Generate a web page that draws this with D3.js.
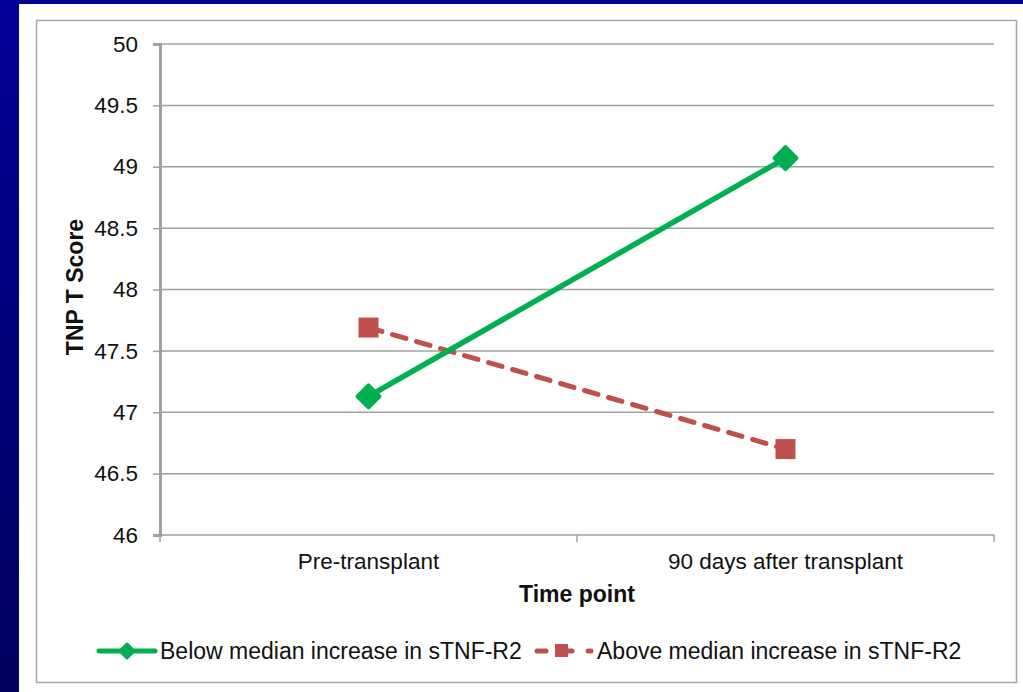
<!DOCTYPE html>
<html><head><meta charset="utf-8">
<script src="https://cdn.jsdelivr.net/npm/d3@7"></script>
<style>body{margin:0;padding:0;overflow:hidden;}svg{display:block;font-family:"Liberation Sans",Arial,sans-serif;}</style>
</head><body>
<svg id="c" width="1023" height="692"></svg>
<script>
const categories = ["Pre-transplant", "90 days after transplant"];
const belowMedian = [47.13, 49.07];
const aboveMedian = [47.69, 46.70];
const yTicks = [46, 46.5, 47, 47.5, 48, 48.5, 49, 49.5, 50];
const seriesNames = ["Below median increase in sTNF-R2", "Above median increase in sTNF-R2"];

const svg = d3.select("#c");
const defs = svg.append("defs");
const grad = defs.append("linearGradient").attr("id","bg").attr("x1",0).attr("y1",0).attr("x2",0).attr("y2",1);
grad.append("stop").attr("offset","0%").attr("stop-color","#000099");
grad.append("stop").attr("offset","100%").attr("stop-color","#00005e");
svg.append("rect").attr("width",1023).attr("height",692).attr("fill","url(#bg)");
svg.append("rect").attr("x",19).attr("y",4).attr("width",1004).attr("height",688).attr("fill","#fff");
svg.append("rect").attr("x",36.5).attr("y",20.5).attr("width",980).attr("height",662)
  .attr("fill","none").attr("stroke","#a6a6a6").attr("stroke-width",1.5);

const x = d3.scaleBand().domain(categories).range([160, 994]);
const y = d3.scaleLinear().domain([46, 50]).range([535, 44]);

// gridlines
svg.append("g").selectAll("line").data(yTicks.filter(d => d > 46)).join("line")
  .attr("x1",160).attr("x2",994).attr("y1",d=>y(d)).attr("y2",d=>y(d))
  .attr("stroke","#a0a0a0").attr("stroke-width",1.5);

// y axis
const ya = svg.append("g").attr("transform","translate(160,0)")
  .call(d3.axisLeft(y).tickValues(yTicks).tickFormat(d=>String(d)).tickSize(7).tickPadding(15));
ya.select(".domain").attr("stroke","#a0a0a0").attr("stroke-width",3);
ya.selectAll(".tick line").attr("stroke","#a0a0a0").attr("stroke-width",1.5);
ya.selectAll(".tick text").attr("font-size",22.5).attr("fill","#111").attr("font-family","Liberation Sans, Arial, sans-serif");

// x axis
const xa = svg.append("g").attr("transform","translate(0,535)")
  .call(d3.axisBottom(x).tickSize(0).tickPadding(18));
xa.select(".domain").attr("stroke","#a0a0a0").attr("stroke-width",1.5).attr("d","M160,0H994");
xa.selectAll(".tick text").attr("font-size",22.5).attr("fill","#111").attr("font-family","Liberation Sans, Arial, sans-serif");
const edges = [x.range()[0], x.range()[0] + x.step(), x.range()[1]];
xa.append("g").selectAll("line").data(edges).join("line")
  .attr("x1",d=>d).attr("x2",d=>d).attr("y1",0).attr("y2",7)
  .attr("stroke","#a0a0a0").attr("stroke-width",1.5);

// axis titles
svg.append("text").attr("x",577).attr("y",602).attr("text-anchor","middle")
  .attr("font-size",23).attr("font-weight","bold").attr("fill","#111").text("Time point");
svg.append("text").attr("transform","translate(83,287) rotate(-90)").attr("text-anchor","middle")
  .attr("font-size",23).attr("font-weight","bold").attr("fill","#111").text("TNP T Score");

const green = "#00b050", red = "#c0504d";
const cx = d => x(d) + x.bandwidth()/2;
const line = d3.line().x(d=>cx(d[0])).y(d=>y(d[1]));

// red dashed series
const redData = categories.map((c,i)=>[c, aboveMedian[i]]);
svg.append("path").attr("d", line(redData)).attr("fill","none").attr("stroke",red)
  .attr("stroke-width",5).attr("stroke-dasharray","14 11").attr("stroke-linecap","round");
svg.append("g").selectAll("rect").data(redData).join("rect")
  .attr("x",d=>cx(d[0])-10).attr("y",d=>y(d[1])-10).attr("width",20).attr("height",20).attr("fill",red);

// green series
const greenData = categories.map((c,i)=>[c, belowMedian[i]]);
svg.append("path").attr("d", line(greenData)).attr("fill","none").attr("stroke",green)
  .attr("stroke-width",5.5);
const diamond = "M0,-11 L11,0 L0,11 L-11,0 Z";
svg.append("g").selectAll("path").data(greenData).join("path")
  .attr("transform",d=>`translate(${cx(d[0])},${y(d[1])})`).attr("d",diamond)
  .attr("fill",green).attr("stroke",green).attr("stroke-width",4).attr("stroke-linejoin","round");

// legend
const ly = 651;
const lg = svg.append("g");
lg.append("line").attr("x1",99).attr("x2",155).attr("y1",ly).attr("y2",ly).attr("stroke",green).attr("stroke-width",5).attr("stroke-linecap","round");
lg.append("path").attr("transform",`translate(127,${ly})`).attr("d","M0,-7 L7,0 L0,7 L-7,0 Z")
  .attr("fill",green).attr("stroke",green).attr("stroke-width",3).attr("stroke-linejoin","round");
lg.append("text").attr("x",160).attr("y",ly+8).attr("font-size",23).attr("fill","#111").text(seriesNames[0]);
lg.append("line").attr("x1",537).attr("x2",546).attr("y1",ly).attr("y2",ly).attr("stroke",red).attr("stroke-width",5).attr("stroke-linecap","round");
lg.append("rect").attr("x",555).attr("y",ly-7).attr("width",13).attr("height",13).attr("fill",red);
lg.append("line").attr("x1",568).attr("x2",572).attr("y1",ly).attr("y2",ly).attr("stroke",red).attr("stroke-width",5).attr("stroke-linecap","round");
lg.append("line").attr("x1",588).attr("x2",591).attr("y1",ly).attr("y2",ly).attr("stroke",red).attr("stroke-width",5).attr("stroke-linecap","round");
lg.append("text").attr("x",597).attr("y",ly+8).attr("font-size",23).attr("fill","#111").text(seriesNames[1]);
</script>
</body></html>
